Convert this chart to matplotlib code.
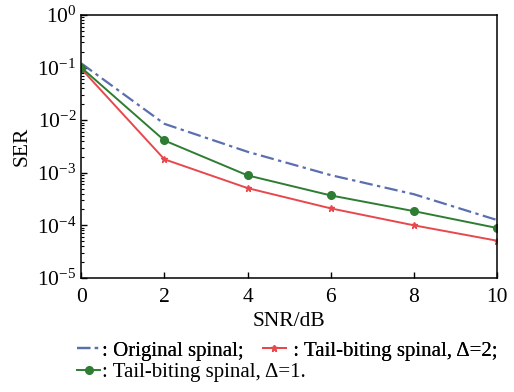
import numpy as np
import matplotlib
matplotlib.use("Agg")
import matplotlib.pyplot as plt
from matplotlib.ticker import LogLocator, NullFormatter

plt.rcParams['font.family'] = ['Liberation Serif', 'DejaVu Serif']
plt.rcParams['mathtext.fontset'] = 'stix'

# data
snr = [0, 2, 4, 6, 8, 10]
ser_original = [0.12, 0.0085, 0.0025, 0.0009, 0.00039, 0.000126]
ser_tb_d1 = [0.10, 0.0041, 0.00089, 0.00037, 0.000186, 0.000089]
ser_tb_d2 = [0.095, 0.0018, 0.00051, 0.00021, 0.0001, 0.000051]

lab_orig = ": Original spinal;"
lab_d2 = " : Tail-biting spinal, Δ=2;"
lab_d1 = ": Tail-biting spinal, Δ=1."

fig = plt.figure(figsize=(5.14, 3.92), dpi=100)
ax = fig.add_axes([0.158, 0.291, 0.809, 0.671])

l1, = ax.plot(snr, ser_original, color='#5a6fb0', lw=1.6,
              linestyle=(0, (6, 2, 1.5, 2)))
l3, = ax.plot(snr, ser_tb_d2, color='#e8474c', lw=1.4, marker='*', ms=5)
l2, = ax.plot(snr, ser_tb_d1, color='#2e7d32', lw=1.4, marker='o', ms=5.5)

ax.set_yscale('log')
ax.set_xlim(0, 10)
ax.set_ylim(1e-5, 1)
ax.set_xticks(snr)
ax.yaxis.set_major_locator(LogLocator(base=10, numticks=10))
ax.yaxis.set_minor_locator(LogLocator(base=10, subs=np.arange(2, 10), numticks=10))
ax.yaxis.set_minor_formatter(NullFormatter())
ax.tick_params(direction='in', labelsize=15.5, length=4, width=1)
ax.tick_params(which='minor', direction='in', length=2.5, width=0.8)
ax.tick_params(axis='x', pad=7)
for s in ax.spines.values():
    s.set_linewidth(1.1)

ax.set_xlabel("SNR/dB", fontsize=15.5, labelpad=4)
ax.set_ylabel("SER", fontsize=15.5, labelpad=4)

leg_kw = dict(frameon=False, fontsize=15, loc='center left', numpoints=1,
              handlelength=1.1, handletextpad=0.1, columnspacing=0.9,
              borderpad=0, borderaxespad=0)
leg1 = fig.legend([l1, l3], [lab_orig, lab_d2], ncol=2,
                  bbox_to_anchor=(0.15, 0.105), **leg_kw)
fig.add_artist(leg1)
fig.legend([l2], [lab_d1], bbox_to_anchor=(0.15, 0.051), **leg_kw)

fig.savefig("out.png", dpi=100)
